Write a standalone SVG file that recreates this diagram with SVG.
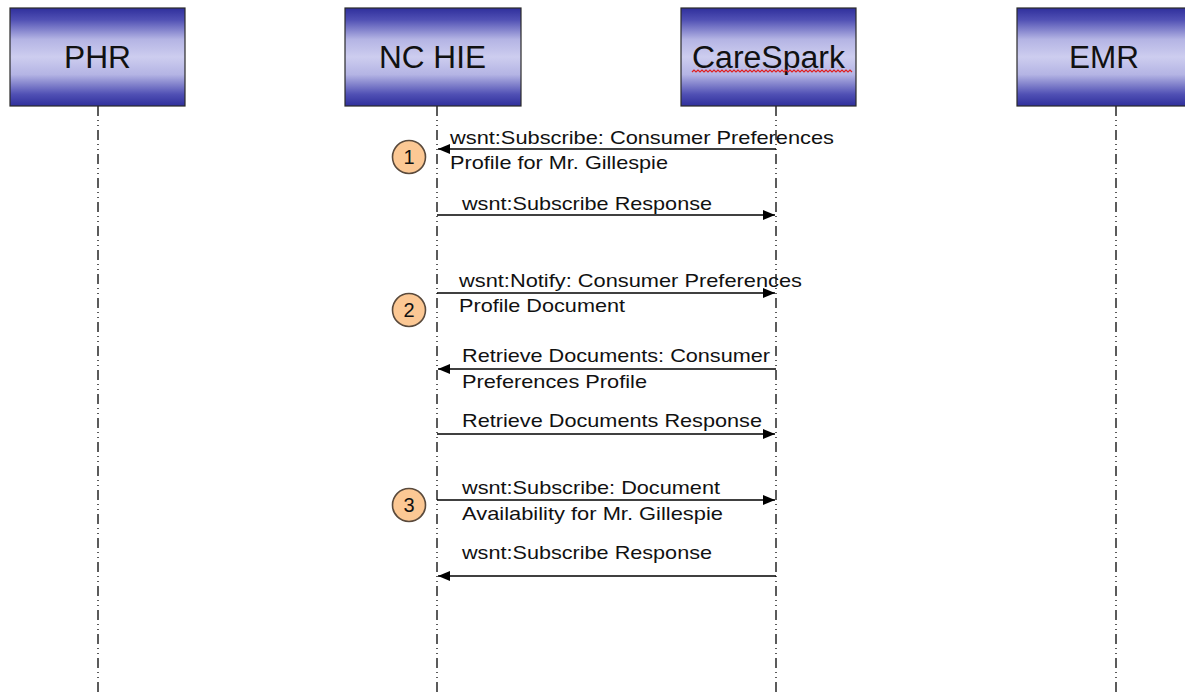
<svg xmlns="http://www.w3.org/2000/svg" width="1185" height="692" viewBox="0 0 1185 692">
<defs>
<linearGradient id="boxg" x1="0" y1="0" x2="0" y2="1">
<stop offset="0" stop-color="#2f2f9c"/>
<stop offset="0.12" stop-color="#5050b4"/>
<stop offset="0.32" stop-color="#b4b4e4"/>
<stop offset="0.5" stop-color="#cdcdef"/>
<stop offset="0.68" stop-color="#b4b4e4"/>
<stop offset="0.88" stop-color="#5050b4"/>
<stop offset="1" stop-color="#2f2f9c"/>
</linearGradient>
<marker id="ah" markerWidth="13" markerHeight="10" refX="12" refY="5" orient="auto" markerUnits="userSpaceOnUse">
<path d="M0,0 L12,5 L0,10 Z" fill="#000"/>
</marker>
<style>
.box{fill:url(#boxg);stroke:#2a2a2a;stroke-width:1.2}
.title{font-family:"Liberation Sans",Arial,sans-serif;font-size:31px;fill:#111;text-anchor:start}
.life{stroke:#333;stroke-width:1.6;stroke-dasharray:10 4 1 4 1 4;fill:none}
.msg{stroke:#000;stroke-width:1.5;fill:none;marker-end:url(#ah)}
.lbl{font-family:"Liberation Sans",Arial,sans-serif;font-size:19px;fill:#111}
.step{fill:#fcc894;stroke:#5a4a3c;stroke-width:1.6}
.num{font-family:"Liberation Sans",Arial,sans-serif;font-size:20px;fill:#111;text-anchor:middle}
</style>
</defs>
<rect width="1185" height="692" fill="#fff"/>

<g id="lifelines">
<line class="life" x1="98" y1="106" x2="98" y2="692"/>
<line class="life" x1="437" y1="106" x2="437" y2="692"/>
<line class="life" x1="776" y1="106" x2="776" y2="692"/>
<line class="life" x1="1116" y1="106" x2="1116" y2="692"/>
</g>

<g id="node-phr">
<rect class="box" x="10" y="8" width="175" height="98"/>
<text class="title" x="64" y="68" textLength="67" lengthAdjust="spacingAndGlyphs">PHR</text>
</g>
<g id="node-nchie">
<rect class="box" x="345" y="8" width="176" height="98"/>
<text class="title" x="379" y="68" textLength="107" lengthAdjust="spacingAndGlyphs">NC HIE</text>
</g>
<g id="node-carespark">
<rect class="box" x="681" y="8" width="175" height="98"/>
<text class="title" x="692" y="68" textLength="153" lengthAdjust="spacingAndGlyphs">CareSpark</text>
<path d="M692,72 l2,-2 l2,2 l2,-2 l2,2 l2,-2 l2,2 l2,-2 l2,2 l2,-2 l2,2 l2,-2 l2,2 l2,-2 l2,2 l2,-2 l2,2 l2,-2 l2,2 l2,-2 l2,2 l2,-2 l2,2 l2,-2 l2,2 l2,-2 l2,2 l2,-2 l2,2 l2,-2 l2,2 l2,-2 l2,2 l2,-2 l2,2 l2,-2 l2,2 l2,-2 l2,2 l2,-2 l2,2 l2,-2 l2,2 l2,-2 l2,2 l2,-2 l2,2 l2,-2 l2,2 l2,-2 l2,2 l2,-2 l2,2 l2,-2 l2,2 l2,-2 l2,2 l2,-2 l2,2 l2,-2 l2,2 l2,-2 l2,2 l2,-2 l2,2 l2,-2 l2,2 l2,-2 l2,2 l2,-2 l2,2 l2,-2 l2,2 l2,-2 l2,2 l2,-2 l2,2 l2,-2 l2,2 l2,-2 l2,2" fill="none" stroke="#e02020" stroke-width="1.2"/>
</g>
<g id="node-emr">
<rect class="box" x="1017" y="8" width="176" height="98"/>
<text class="title" x="1069" y="68" textLength="70" lengthAdjust="spacingAndGlyphs">EMR</text>
</g>

<g id="connectors">
<line class="msg" x1="776" y1="149" x2="438" y2="149"/>
<line class="msg" x1="437" y1="215" x2="775" y2="215"/>
<line class="msg" x1="437" y1="293" x2="775" y2="293"/>
<line class="msg" x1="776" y1="369" x2="438" y2="369"/>
<line class="msg" x1="437" y1="434" x2="775" y2="434"/>
<line class="msg" x1="437" y1="500" x2="775" y2="500"/>
<line class="msg" x1="776" y1="576" x2="438" y2="576"/>
</g>

<g id="labels">
<text class="lbl" x="450" y="144" textLength="384" lengthAdjust="spacingAndGlyphs">wsnt:Subscribe: Consumer Preferences</text>
<text class="lbl" x="450" y="169" textLength="218" lengthAdjust="spacingAndGlyphs">Profile for Mr. Gillespie</text>
<text class="lbl" x="462" y="210" textLength="250" lengthAdjust="spacingAndGlyphs">wsnt:Subscribe Response</text>
<text class="lbl" x="459" y="287" textLength="343" lengthAdjust="spacingAndGlyphs">wsnt:Notify: Consumer Preferences</text>
<text class="lbl" x="459" y="312" textLength="166" lengthAdjust="spacingAndGlyphs">Profile Document</text>
<text class="lbl" x="462" y="362" textLength="308" lengthAdjust="spacingAndGlyphs">Retrieve Documents: Consumer</text>
<text class="lbl" x="462" y="388" textLength="185" lengthAdjust="spacingAndGlyphs">Preferences Profile</text>
<text class="lbl" x="462" y="427" textLength="300" lengthAdjust="spacingAndGlyphs">Retrieve Documents Response</text>
<text class="lbl" x="462" y="494" textLength="258" lengthAdjust="spacingAndGlyphs">wsnt:Subscribe: Document</text>
<text class="lbl" x="462" y="520" textLength="261" lengthAdjust="spacingAndGlyphs">Availability for Mr. Gillespie</text>
<text class="lbl" x="462" y="559" textLength="250" lengthAdjust="spacingAndGlyphs">wsnt:Subscribe Response</text>
</g>

<g id="step-1">
<circle class="step" cx="409" cy="157" r="16.5"/>
<text class="num" x="409" y="164">1</text>
</g>
<g id="step-2">
<circle class="step" cx="409" cy="310" r="16.5"/>
<text class="num" x="409" y="317">2</text>
</g>
<g id="step-3">
<circle class="step" cx="409" cy="505" r="16.5"/>
<text class="num" x="409" y="512">3</text>
</g>
</svg>
